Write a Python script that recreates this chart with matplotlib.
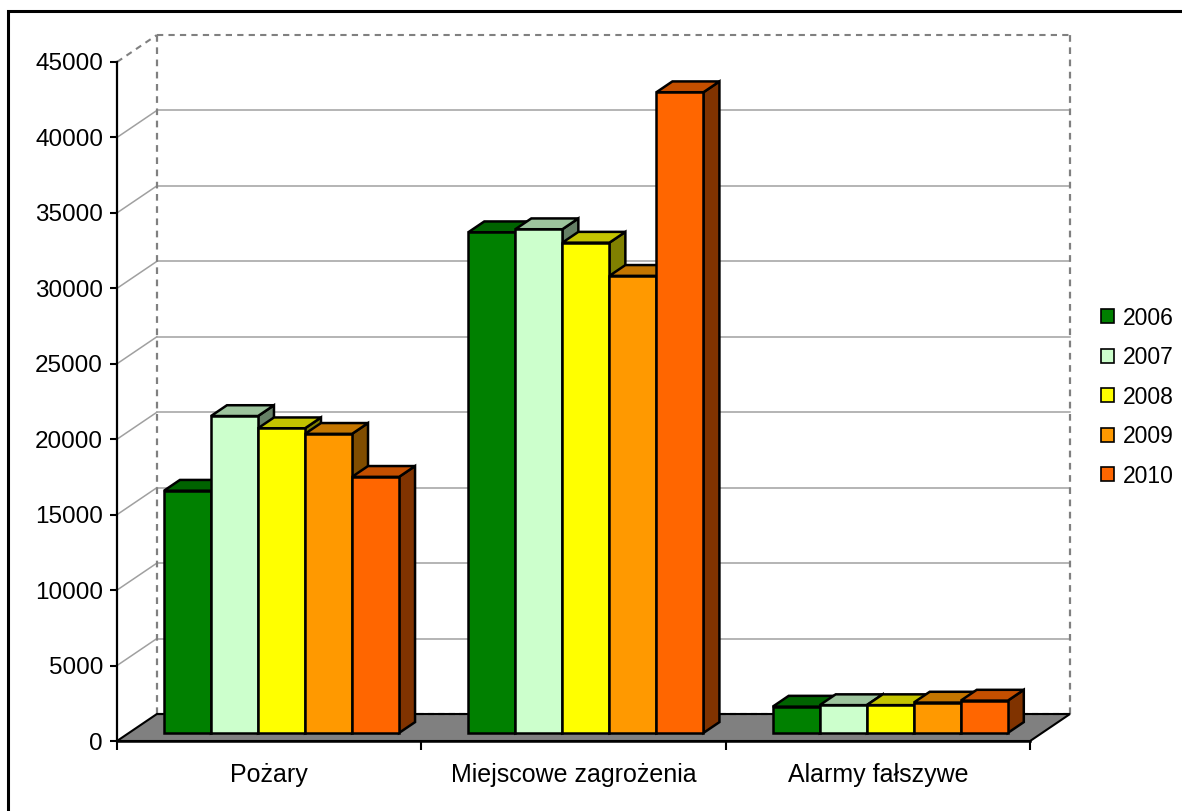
import matplotlib.pyplot as plt
from matplotlib.patches import Polygon, Rectangle, Patch
from matplotlib.colors import to_rgb

plt.rcParams['font.family'] = ['Liberation Sans', 'DejaVu Sans']

# data
categories = ['Pożary', 'Miejscowe zagrożenia', 'Alarmy fałszywe']
years = ['2006', '2007', '2008', '2009', '2010']
v2006 = [16050, 33180, 1740]
v2007 = [21000, 33380, 1840]
v2008 = [20190, 32490, 1840]
v2009 = [19820, 30290, 2010]
v2010 = [16970, 42460, 2140]
series = [v2006, v2007, v2008, v2009, v2010]
colors = ['#008000', '#ccffcc', '#ffff00', '#ff9900', '#ff6600']
y_ticks = list(range(0, 45001, 5000))

# fake 3d: depth offset of the whole plot box in data units
DX, DY = 0.131, 1789
BAR_W = 0.1545
GROUP_OFF = 0.115
BAR_FRONT, BAR_DEPTH = 0.3, 0.4
YMAX = 45000


def shade(c, f):
    r, g, b = to_rgb(c)
    return (r * f, g * f, b * f)


W, H = 1182, 811
fig = plt.figure(figsize=(W / 100, H / 100), dpi=100)
ax = fig.add_axes([117 / W, (H - 741) / H, (1070 - 117) / W, (741 - 35) / H])
ax.set_xlim(0, 3 + DX)
ax.set_ylim(0, YMAX + DY)

# outer chart border
fig.add_artist(Rectangle((8 / W, -0.1), 1.2, (H - 11) / H + 0.1, transform=fig.transFigure,
                         fill=False, lw=2.2, ec='black'))

# floor
floor = Polygon([(0, 0), (3, 0), (3 + DX, DY), (DX, DY)], closed=True, fc='#808080',
                ec='black', lw=1.5, zorder=1, clip_on=False)
ax.add_patch(floor)
ax.plot([DX, 3 + DX], [DY, DY], color='black', lw=1.5, ls=(0, (3, 2)), zorder=1.5, clip_on=False)

# walls: gridlines on back wall + diagonals on the left wall
for v in y_ticks[1:]:
    ls = (0, (3, 2.5)) if v == YMAX else '-'
    col = '#808080' if v == YMAX else '#a0a0a0'
    lw = 1.5 if v == YMAX else 1.1
    ax.plot([DX, 3 + DX], [v + DY, v + DY], color=col, lw=lw, ls=ls, zorder=0.5, clip_on=False)
    ax.plot([0, DX], [v, v + DY], color=col, lw=lw, ls=ls, zorder=0.5, clip_on=False)
for xx in (DX, 3 + DX):
    ax.plot([xx, xx], [DY, YMAX + DY], color='#808080', lw=1.6, ls=(0, (3, 2.5)),
            zorder=0.6, clip_on=False)

# bars: front face with ax.bar, top and side faces as polygons
fx, fy = BAR_FRONT * DX, BAR_FRONT * DY
bx, by = BAR_DEPTH * DX, BAR_DEPTH * DY
z = 2
for j, (vals, col) in enumerate(zip(series, colors)):
    xs = [i + GROUP_OFF + j * BAR_W + fx for i in range(len(categories))]
    bars = ax.bar(xs, vals, width=BAR_W, bottom=fy, align='edge', color=col,
                  edgecolor='black', lw=1.8, zorder=z + 0.2)
    for b in bars:
        x0, w = b.get_x(), b.get_width()
        y0, top = b.get_y(), b.get_y() + b.get_height()
        side = Polygon([(x0 + w, y0), (x0 + w + bx, y0 + by), (x0 + w + bx, top + by), (x0 + w, top)],
                       closed=True, fc=shade(col, 0.5), ec='black', lw=1.8, zorder=z)
        topf = Polygon([(x0, top), (x0 + w, top), (x0 + w + bx, top + by), (x0 + bx, top + by)],
                       closed=True, fc=shade(col, 0.77), ec='black', lw=1.8, zorder=z + 0.1)
        ax.add_patch(side)
        ax.add_patch(topf)
    z += 1

# axes
for s in ('top', 'right'):
    ax.spines[s].set_visible(False)
ax.spines['left'].set_bounds(0, YMAX)
ax.spines['left'].set_linewidth(1.6)
ax.spines['bottom'].set_bounds(0, 3)
ax.spines['bottom'].set_linewidth(1.8)
ax.spines['left'].set_zorder(10)
ax.spines['bottom'].set_zorder(10)

ax.set_yticks(y_ticks)
ax.set_yticklabels([str(v) for v in y_ticks])
ax.tick_params(axis='y', direction='out', length=5, width=1.5, pad=5, labelsize=17.5)

ax.set_xticks([0, 1, 2, 3])
ax.set_xticklabels([])
ax.set_xticks([0.5, 1.5, 2.5], minor=True)
ax.set_xticklabels(categories, minor=True)
ax.tick_params(axis='x', which='major', direction='out', length=6.5, width=1.5)
ax.tick_params(axis='x', which='minor', length=0, pad=16, labelsize=18)

handles = [Patch(facecolor=c, edgecolor='black', lw=1.2) for c in colors]
ax.legend(handles, years, loc='center left', bbox_to_anchor=(1101 / W, (H - 397) / H),
          bbox_transform=fig.transFigure, frameon=False, fontsize=16.5,
          handlelength=0.55, handleheight=0.55, handletextpad=0.4, labelspacing=0.72,
          borderpad=0, borderaxespad=0)

fig.savefig('out.png', dpi=100)
